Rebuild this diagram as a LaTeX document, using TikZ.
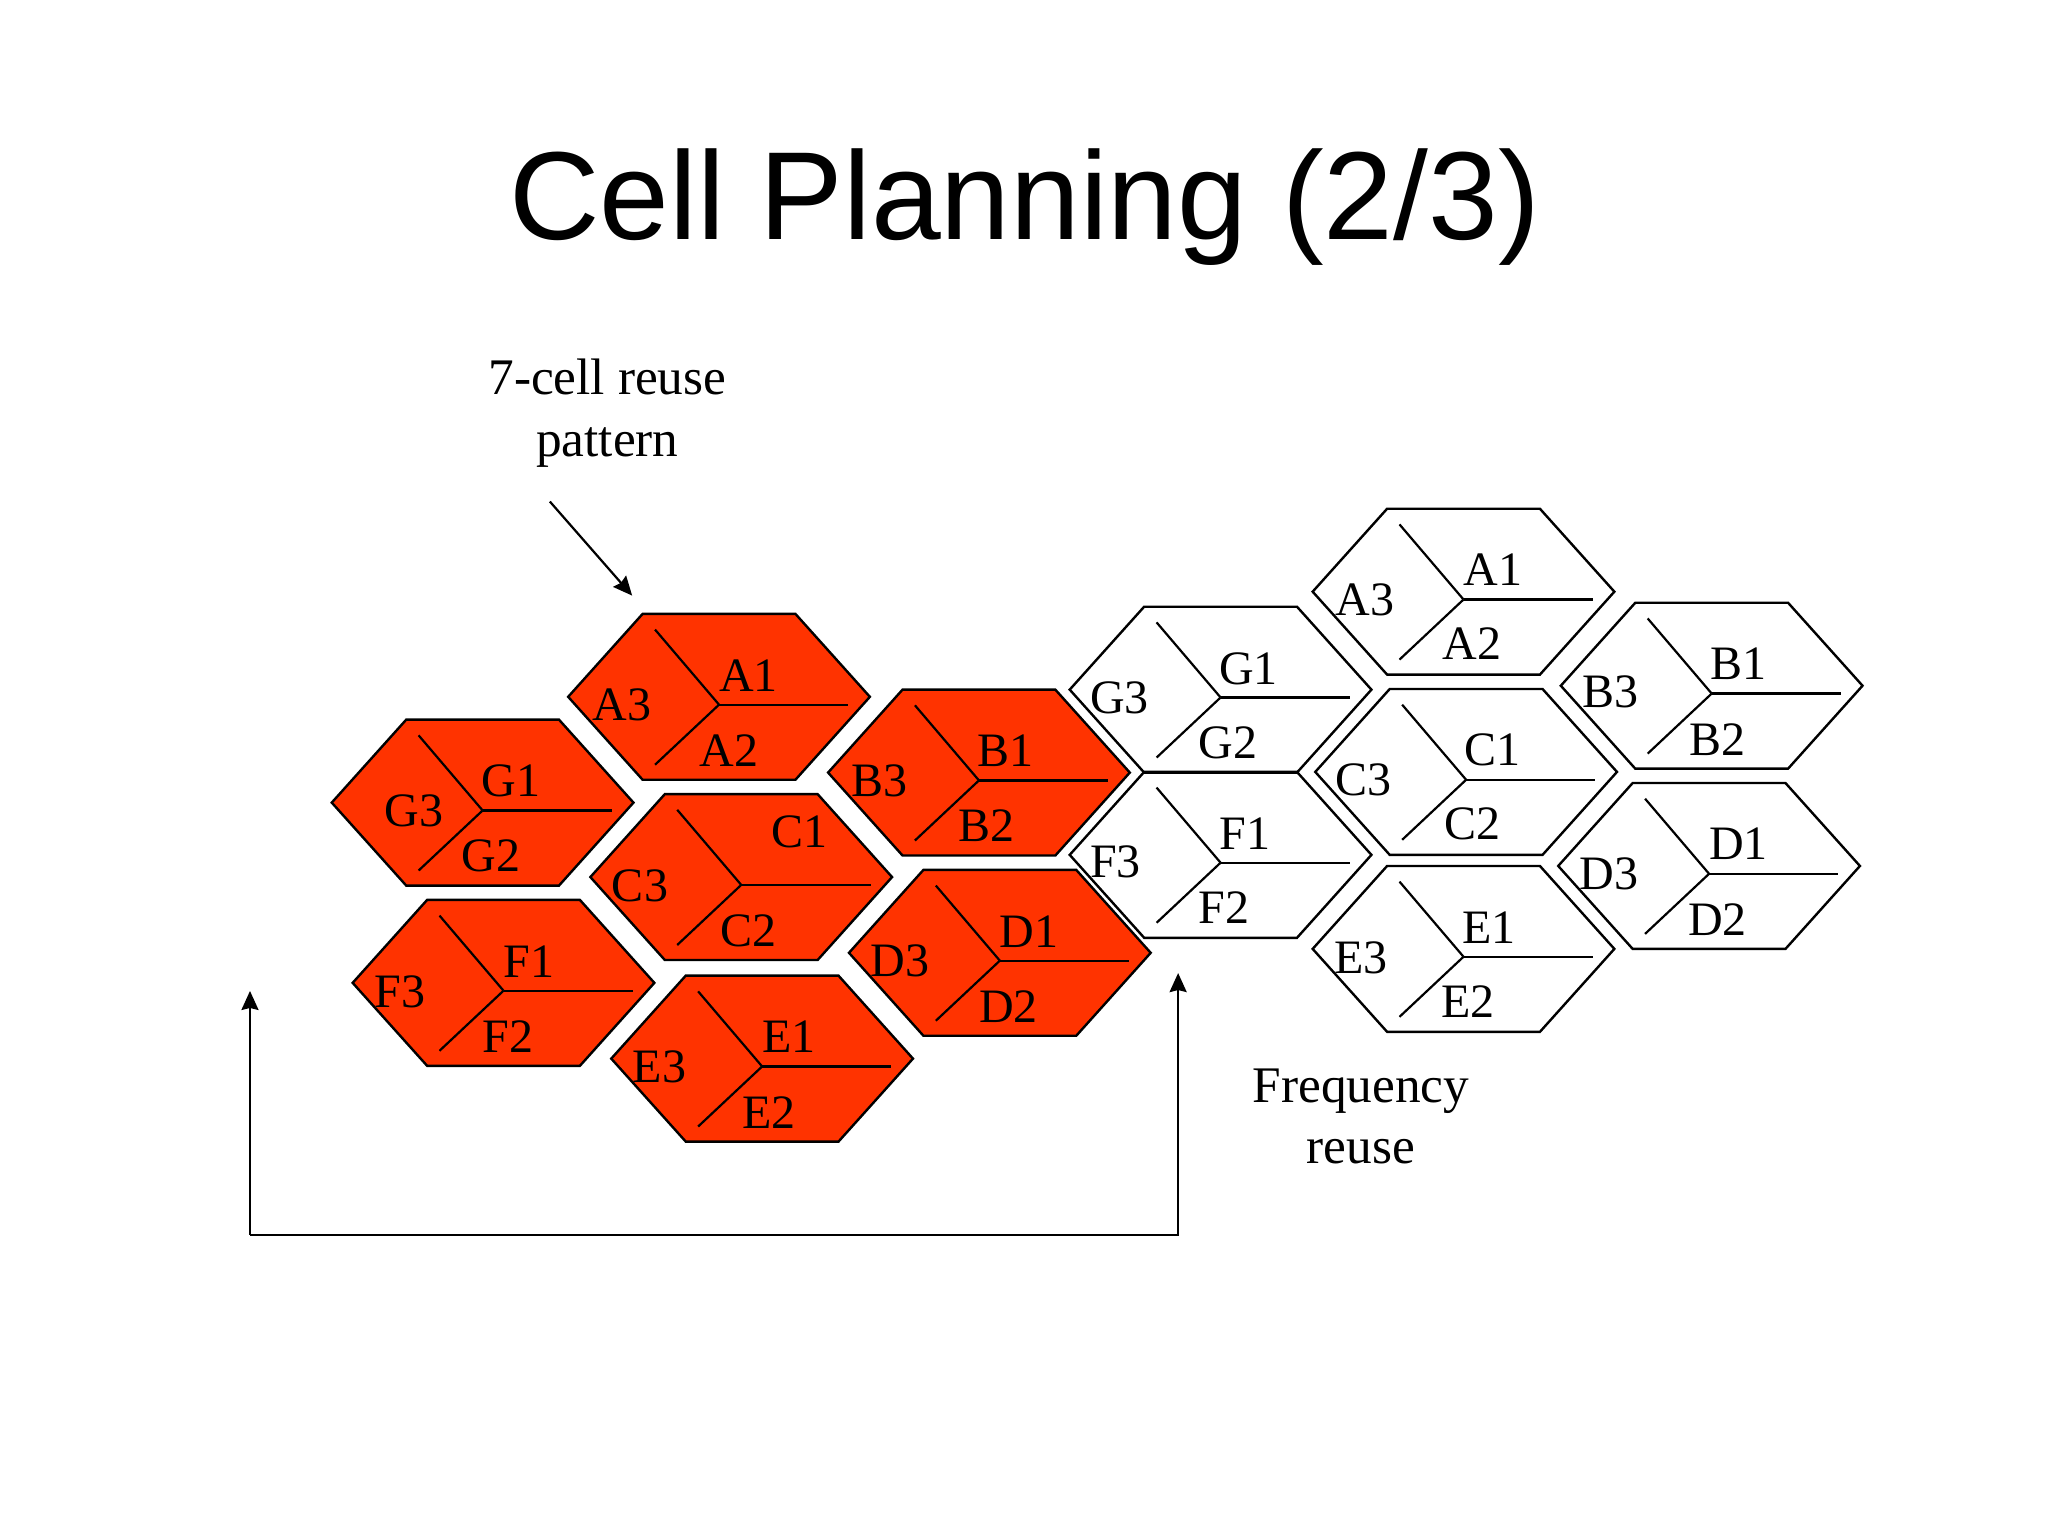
\documentclass[tikz,border=0pt]{standalone}
\usepackage{fontspec}
\setmainfont{Liberation Serif}
\newfontfamily\titlefont{Liberation Sans}
\usetikzlibrary{arrows.meta}
\definecolor{cellred}{HTML}{FF3300}
\tikzset{
  hexred/.style={draw=black,line width=2.4pt,fill=cellred,line join=miter},
  hexwhite/.style={draw=black,line width=2.4pt,fill=none,line join=miter},
  spoke/.style={draw=black,line width=2.2pt},
  cellname/.style={inner sep=0pt,font=\fontsize{48}{48}\selectfont,text=black},
  caption/.style={inner sep=0pt,anchor=base,font=\fontsize{51.3}{51.3}\selectfont,text=black},
  headline/.style={inner sep=0pt,anchor=base,font=\titlefont\fontsize{125.3}{125.3}\selectfont,text=black},
  pointer/.style={draw=black,line width=2.2pt,-{Stealth[length=19pt,width=17pt,inset=2pt]}},
}
\newcommand{\hexcell}[4]{%
  \begin{scope}[shift={(#2,#3)}]
    \coordinate (#1-l) at (-115.5,0);
    \coordinate (#1-tl) at (-58.5,-63.5);
    \coordinate (#1-tr) at (58.5,-63.5);
    \coordinate (#1-r) at (115.5,0);
    \coordinate (#1-br) at (58.5,63.5);
    \coordinate (#1-bl) at (-58.5,63.5);
    \coordinate (#1-j) at (0,6);
    \coordinate (#1-a) at (99,6);
    \coordinate (#1-b) at (-49,-51.5);
    \coordinate (#1-c) at (-49,52);
    \path[#4] (#1-l) -- (#1-tl) -- (#1-tr) -- (#1-r) -- (#1-br) -- (#1-bl) -- cycle;
    \draw[spoke] (#1-j) -- (#1-a);
    \draw[spoke] (#1-j) -- (#1-b);
    \draw[spoke] (#1-j) -- (#1-c);
  \end{scope}%
}
\newcommand{\celllabels}[8]{%
  \node[cellname] (#1-1) at (#3,#4) {#21};
  \node[cellname] (#1-2) at (#5,#6) {#22};
  \node[cellname] (#1-3) at (#7,#8) {#23};
}
\begin{document}
\begin{tikzpicture}[x=1.30612pt,y=-1.30612pt]
\path[use as bounding box,fill=white] (0,0) rectangle (1568,1176);

\node[headline] (title) at (784.5,183) {Cell Planning (2/3)};
\node[caption] (reuseA) at (465,302) {7-cell reuse};
\node[caption] (reuseB) at (465,349.5) {pattern};
\node[caption] (freqA) at (1042,844) {Frequency};
\node[caption] (freqB) at (1042,891) {reuse};

% red cluster
\hexcell{ra}{550.5}{533.5}{hexred}
\hexcell{rg}{369.5}{614.5}{hexred}
\hexcell{rc}{567.5}{671.5}{hexred}
\hexcell{rb}{749.5}{591.5}{hexred}
\hexcell{rf}{385.5}{752.5}{hexred}
\hexcell{rd}{765.5}{729.5}{hexred}
\hexcell{re}{583.5}{810.5}{hexred}
% white cluster
\hexcell{wg}{934.5}{528}{hexwhite}
\hexcell{wf}{934.5}{654.5}{hexwhite}
\hexcell{wa}{1120.5}{453}{hexwhite}
\hexcell{wc}{1122.5}{591}{hexwhite}
\hexcell{we}{1120.5}{726.5}{hexwhite}
\hexcell{wb}{1310.5}{525}{hexwhite}
\hexcell{wd}{1308.5}{663}{hexwhite}

\celllabels{la}{A}{573}{517}{558}{575}{476}{540}
\celllabels{lg}{G}{391}{598}{376}{655}{317}{621}
\celllabels{lc}{C}{612}{637}{573}{713}{490}{678}
\celllabels{lb}{B}{770}{575}{755}{632}{673}{598}
\celllabels{lf}{F}{405}{736}{389}{794}{306}{759}
\celllabels{ld}{D}{788}{713}{772}{771}{689}{736}
\celllabels{le}{E}{604}{794}{589}{852}{505}{817}
\celllabels{mg}{G}{956}{512}{940}{569}{857}{534}
\celllabels{mf}{F}{953}{638}{937}{695}{854}{660}
\celllabels{ma}{A}{1143}{436}{1127}{493}{1045}{459}
\celllabels{mc}{C}{1143}{574}{1127}{631}{1044}{597}
\celllabels{me}{E}{1140}{710}{1124}{767}{1042}{733}
\celllabels{mb}{B}{1331}{508}{1315}{566}{1233}{530}
\celllabels{md}{D}{1331}{646}{1315}{704}{1232}{669}

% arrows
\coordinate (pstart) at (421,384);
\coordinate (pend) at (484,456);
\draw[pointer] (pstart) -- (pend);
\coordinate (lefttip) at (191.4,758.7);
\coordinate (leftcorner) at (191.4,945.5);
\coordinate (rightcorner) at (902,945.5);
\coordinate (righttip) at (902,745);
\draw[pointer,line join=miter] (leftcorner) -- (rightcorner) -- (righttip);
\draw[pointer] (leftcorner) -- (lefttip);
\end{tikzpicture}
\end{document}
